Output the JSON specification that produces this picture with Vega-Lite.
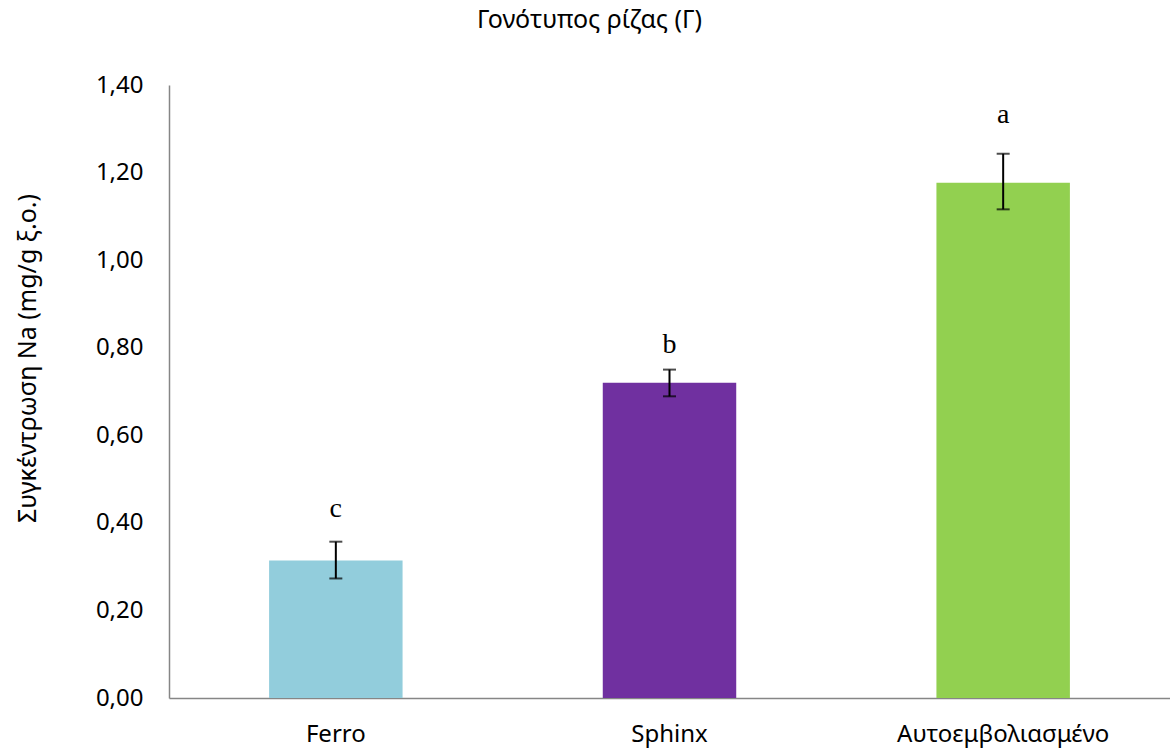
{
  "$schema": "https://vega.github.io/schema/vega-lite/v6.json",
  "width": 1001,
  "height": 613,
  "autosize": {"type": "none"},
  "padding": {"left": 169, "top": 85, "right": 0, "bottom": 51},
  "background": "white",
  "config": {
    "view": {"stroke": null},
    "font": "Noto Sans",
    "text": {"font": "Noto Sans"}
  },
  "title": {
    "text": "Γονότυπος ρίζας (Γ)",
    "frame": "group",
    "anchor": "middle",
    "dx": -80,
    "offset": 40,
    "font": "Noto Sans",
    "fontSize": 25,
    "fontWeight": "normal",
    "color": "#000000"
  },
  "data": {
    "values": [
      {"genotype": "Ferro", "mean": 0.314, "lo": 0.273, "hi": 0.357, "letter": "c", "letter_y": 0.414},
      {"genotype": "Sphinx", "mean": 0.720, "lo": 0.689, "hi": 0.750, "letter": "b", "letter_y": 0.789},
      {"genotype": "Αυτοεμβολιασμένο", "mean": 1.177, "lo": 1.116, "hi": 1.243, "letter": "a", "letter_y": 1.314}
    ]
  },
  "encoding": {
    "x": {
      "field": "genotype",
      "type": "nominal",
      "sort": null,
      "scale": {"paddingInner": 0.6, "paddingOuter": 0.3},
      "axis": {
        "title": null,
        "labelAngle": 0,
        "labelFont": "Noto Sans",
        "labelFontSize": 24,
        "labelColor": "#000000",
        "labelPadding": 24,
        "labelLimit": 500,
        "ticks": false,
        "domainColor": "#868686",
        "domainWidth": 1.5
      }
    }
  },
  "layer": [
    {
      "mark": {"type": "bar"},
      "encoding": {
        "y": {
          "field": "mean",
          "type": "quantitative",
          "scale": {"domain": [0, 1.4], "nice": false},
          "axis": {
            "title": "Συγκέντρωση Na (mg/g ξ.ο.)",
            "titleFont": "Noto Sans",
            "titleFontSize": 25,
            "titleFontWeight": "normal",
            "titleColor": "#000000",
            "titleAngle": -90,
            "titleX": -142,
            "titleY": 273,
            "titleAlign": "center",
            "titleBaseline": "middle",
            "titleLimit": 600,
            "values": [0, 0.2, 0.4, 0.6, 0.8, 1.0, 1.2, 1.4],
            "labelExpr": "replace(format(datum.value, '.2f'), '.', ',')",
            "labelFont": "Noto Sans",
            "labelFontSize": 24,
            "labelColor": "#000000",
            "labelPadding": 26,
            "ticks": false,
            "grid": false,
            "domainColor": "#868686",
            "domainWidth": 1.5
          }
        },
        "color": {
          "field": "genotype",
          "type": "nominal",
          "legend": null,
          "scale": {
            "domain": ["Ferro", "Sphinx", "Αυτοεμβολιασμένο"],
            "range": ["#92CDDC", "#7030A0", "#92D050"]
          }
        }
      }
    },
    {
      "mark": {"type": "rule", "color": "#000000", "strokeWidth": 2},
      "encoding": {
        "y": {"field": "lo", "type": "quantitative"},
        "y2": {"field": "hi"}
      }
    },
    {
      "mark": {"type": "tick", "color": "#000000", "size": 13, "thickness": 2, "orient": "horizontal"},
      "encoding": {
        "y": {"field": "lo", "type": "quantitative"}
      }
    },
    {
      "mark": {"type": "tick", "color": "#000000", "size": 13, "thickness": 2, "orient": "horizontal"},
      "encoding": {
        "y": {"field": "hi", "type": "quantitative"}
      }
    },
    {
      "mark": {"type": "text", "font": "Liberation Serif", "fontSize": 28, "baseline": "alphabetic", "align": "center", "color": "#000000"},
      "encoding": {
        "y": {"field": "letter_y", "type": "quantitative"},
        "text": {"field": "letter"}
      }
    }
  ]
}
